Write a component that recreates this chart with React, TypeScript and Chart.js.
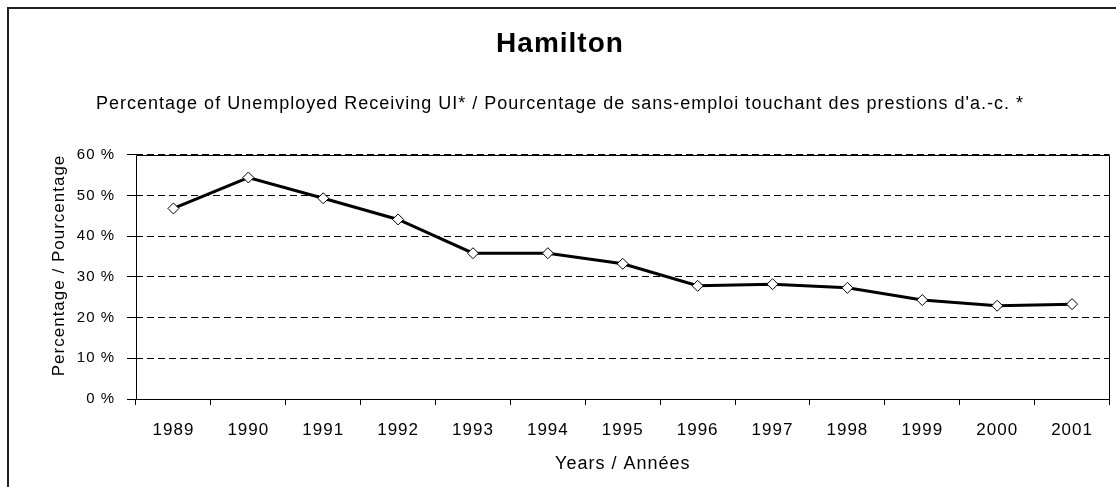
import React, { useEffect, useRef } from "react";
import { Chart, registerables } from "chart.js";

Chart.register(...registerables);

// ---- Data ----
const years: string[] = [
  "1989", "1990", "1991", "1992", "1993", "1994", "1995",
  "1996", "1997", "1998", "1999", "2000", "2001",
];
const percentReceivingUI: number[] = [
  46.8, 54.4, 49.3, 44.1, 35.8, 35.8, 33.2, 27.8, 28.2, 27.3, 24.3, 22.9, 23.3,
];
const yTickValues: number[] = [0, 10, 20, 30, 40, 50, 60];

const chartTitle = "Hamilton";
const chartSubtitle =
  "Percentage of Unemployed Receiving UI* / Pourcentage de sans-emploi touchant des prestions d'a.-c. *";
const yAxisTitle = "Percentage / Pourcentage";
const xAxisTitle = "Years / Années";

const FONT = '"Liberation Sans", Arial, Helvetica, sans-serif';

const letterSpacingPlugin = {
  id: "letterSpacing",
  beforeUpdate(chart: any) {
    (chart.ctx as any).letterSpacing = "1px";
  },
  beforeDraw(chart: any) {
    (chart.ctx as any).letterSpacing = "1px";
  },
};

const plotFramePlugin = {
  id: "plotFrame",
  afterDatasetsDraw(chart: any) {
    const { ctx, chartArea } = chart;
    const l = Math.round(chartArea.left) + 0.5;
    const r = Math.round(chartArea.right) - 0.5;
    const t = Math.round(chartArea.top) + 0.5;
    const b = Math.round(chartArea.bottom) + 0.5;
    ctx.save();
    ctx.setLineDash([]);
    ctx.strokeStyle = "#000";
    ctx.lineWidth = 1;
    ctx.beginPath();
    ctx.moveTo(l, b);
    ctx.lineTo(l, t);
    ctx.lineTo(r, t);
    ctx.lineTo(r, b);
    ctx.lineTo(l, b);
    ctx.stroke();
    ctx.restore();
  },
};

export default function App() {
  const canvasRef = useRef<HTMLCanvasElement>(null);

  useEffect(() => {
    document.documentElement.style.overflow = "hidden";
    document.body.style.overflow = "hidden";
    const canvas = canvasRef.current;
    if (!canvas) return;

    const chart = new Chart(canvas, {
      type: "line",
      data: {
        labels: years,
        datasets: [
          {
            label: chartSubtitle,
            data: percentReceivingUI,
            borderColor: "#000",
            borderWidth: 3,
            tension: 0,
            pointStyle: "rectRot",
            pointRadius: 5.5,
            pointBackgroundColor: "#fff",
            pointBorderColor: "#000",
            pointBorderWidth: 1,
          },
        ],
      },
      options: {
        animation: false,
        responsive: false,
        devicePixelRatio: 1,
        layout: { padding: { top: 0, left: 0, right: 5, bottom: 0 } },
        plugins: {
          legend: { display: false },
          tooltip: { enabled: false },
          title: {
            display: true,
            text: chartTitle,
            color: "#000",
            font: { family: FONT, size: 28, weight: "bold" },
            padding: { top: 18, bottom: 0 },
          },
          subtitle: {
            display: true,
            text: chartSubtitle,
            color: "#000",
            font: { family: FONT, size: 18, weight: "normal" },
            padding: { top: 33, bottom: 39.5 },
          },
        },
        scales: {
          x: {
            type: "category",
            offset: true,
            grid: {
              display: true,
              drawOnChartArea: false,
              drawTicks: true,
              tickLength: 6,
              tickColor: "#000",
              tickWidth: 1,
              offset: true,
            },
            border: { display: false },
            ticks: {
              color: "#000",
              font: { family: FONT, size: 17 },
              padding: 15,
              maxRotation: 0,
              autoSkip: false,
            },
            title: {
              display: true,
              text: xAxisTitle,
              color: "#000",
              font: { family: FONT, size: 18 },
              padding: { top: 0, bottom: 12 },
            },
            afterFit: (scale: any) => {
              scale.height = 88;
            },
          },
          y: {
            min: 0,
            max: 60,
            grid: {
              color: "#000",
              lineWidth: 1,
              drawTicks: true,
              tickLength: 9,
              tickColor: "#000",
              tickWidth: 1,
              tickBorderDash: [],
            },
            border: { display: false, dash: [7, 4] },
            afterBuildTicks: (scale: any) => {
              scale.ticks = yTickValues.map((v) => ({ value: v }));
            },
            ticks: {
              color: "#000",
              font: { family: FONT, size: 15 },
              padding: 12,
              callback: (v: any) => `${v} %`,
            },
            title: {
              display: true,
              text: yAxisTitle,
              align: "end",
              color: "#000",
              font: { family: FONT, size: 17 },
              padding: { top: 40, bottom: 0 },
            },
            afterFit: (scale: any) => {
              scale.width = 127;
            },
          },
        },
      },
      plugins: [letterSpacingPlugin, plotFramePlugin],
    } as any);

    return () => chart.destroy();
  }, []);

  return (
    <div
      style={{
        position: "fixed",
        left: 7,
        top: 7,
        width: 1109,
        height: 480,
        boxSizing: "border-box",
        borderTop: "2px solid #222",
        borderLeft: "2px solid #222",
        background: "#fff",
      }}
    >
      <canvas
        ref={canvasRef}
        width={1107}
        height={478}
        style={{ display: "block", width: 1107, height: 478 }}
      />
    </div>
  );
}
